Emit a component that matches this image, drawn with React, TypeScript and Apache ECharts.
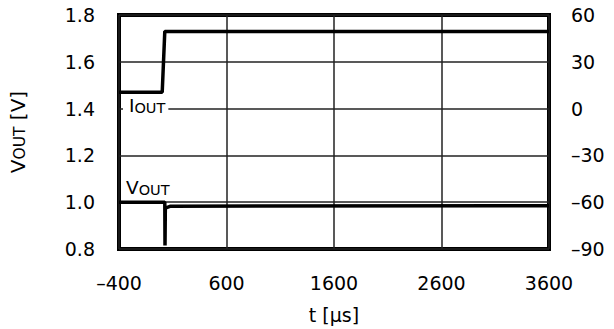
import React, { useEffect, useRef } from "react";
import * as echarts from "echarts";

const xTicks = { min: -400, max: 3600, interval: 1000 };
const leftTicks = { min: 0.8, max: 1.8, interval: 0.2 };
const rightTicks = { min: -90, max: 60, interval: 30 };

const ioutTime = [-400, 2, 26, 3600];
const ioutValues = [10.5, 10.5, 49.5, 49.5];

const voutTime = [-400, 26, 28, 31, 80, 3600];
const voutValues = [1.0, 1.0, 0.815, 0.975, 0.983, 0.985];

const FONT = "DejaVu Sans, Liberation Sans, sans-serif";
const TICK_SIZE = 19;

const dash = (v: number, digits: number) =>
  v < 0 ? "\u2013" + Math.abs(v).toFixed(digits) : v.toFixed(digits);

export default function App() {
  const ref = useRef<HTMLDivElement>(null);
  useEffect(() => {
    if (!ref.current) return;
    const chart = echarts.init(ref.current, null, { renderer: "svg" });
    const iout = ioutTime.map((t, i) => [t, ioutValues[i]]);
    const vout = voutTime.map((t, i) => [t, voutValues[i]]);
    const richBig = { fontSize: 18.5, fontFamily: FONT, fill: "#000", color: "#000", verticalAlign: "bottom" };
    const richSmall = { fontSize: 14.5, fontFamily: FONT, fill: "#000", color: "#000", verticalAlign: "bottom" };
    chart.setOption({
      animation: false,
      grid: {
        left: 119,
        right: 65,
        top: 15,
        bottom: 80,
        show: true,
        borderColor: "#000",
        borderWidth: 4,
        backgroundColor: "transparent",
      },
      xAxis: {
        type: "value",
        min: xTicks.min,
        max: xTicks.max,
        interval: xTicks.interval,
        axisLine: { show: false },
        axisTick: { show: false },
        splitLine: { lineStyle: { color: "#222", width: 1.5 } },
        axisLabel: {
          margin: 24,
          color: "#000",
          fontFamily: FONT,
          fontSize: TICK_SIZE,
          formatter: (v: number) => dash(v, 0),
        },
        name: "t [\u00b5s]",
        nameLocation: "middle",
        nameGap: 56,
        nameTextStyle: { color: "#000", fontFamily: FONT, fontSize: TICK_SIZE },
      },
      yAxis: [
        {
          type: "value",
          position: "left",
          min: leftTicks.min,
          max: leftTicks.max,
          interval: leftTicks.interval,
          axisLine: { show: false },
          axisTick: { show: false },
          splitLine: { lineStyle: { color: "#222", width: 1.5 } },
          axisLabel: {
            margin: 24,
            color: "#000",
            fontFamily: FONT,
            fontSize: TICK_SIZE,
            formatter: (v: number) => dash(v, 1),
          },
          name: "{a|V}{b|OUT}{a| [V]}",
          nameLocation: "middle",
          nameGap: 91,
          nameTextStyle: {
            color: "#000",
            fontFamily: FONT,
            rich: {
              a: { fontSize: 20, fontFamily: FONT, color: "#000", verticalAlign: "bottom" },
              b: { fontSize: 15.5, fontFamily: FONT, color: "#000", verticalAlign: "bottom" },
            },
          },
        },
        {
          type: "value",
          position: "right",
          min: rightTicks.min,
          max: rightTicks.max,
          interval: rightTicks.interval,
          axisLine: { show: false },
          axisTick: { show: false },
          splitLine: { show: false },
          axisLabel: {
            margin: 22,
            color: "#000",
            fontFamily: FONT,
            fontSize: TICK_SIZE,
            formatter: (v: number) => dash(v, 0),
          },
        },
      ],
      series: [
        {
          type: "line",
          yAxisIndex: 1,
          data: iout,
          showSymbol: false,
          lineStyle: { color: "#000", width: 3.5 },
          z: 5,
        },
        {
          type: "line",
          yAxisIndex: 0,
          data: vout,
          showSymbol: false,
          lineStyle: { color: "#000", width: 3.5 },
          z: 5,
        },
      ],
      graphic: [
        {
          type: "text",
          left: 123,
          top: 96,
          z: 10,
          style: {
            text: "{a|I}{b|OUT}",
            backgroundColor: "#fff",
            padding: [0, 3, 0, 6],
            rich: { a: richBig, b: richSmall },
          },
        },
        {
          type: "text",
          left: 126,
          top: 178,
          z: 10,
          style: {
            text: "{a|V}{b|OUT}",
            rich: { a: richBig, b: richSmall },
          },
        },
      ],
    });
    return () => chart.dispose();
  }, []);
  return (
    <div
      ref={ref}
      style={{ position: "fixed", left: 0, top: 0, width: 614, height: 329, background: "#fff" }}
    />
  );
}
